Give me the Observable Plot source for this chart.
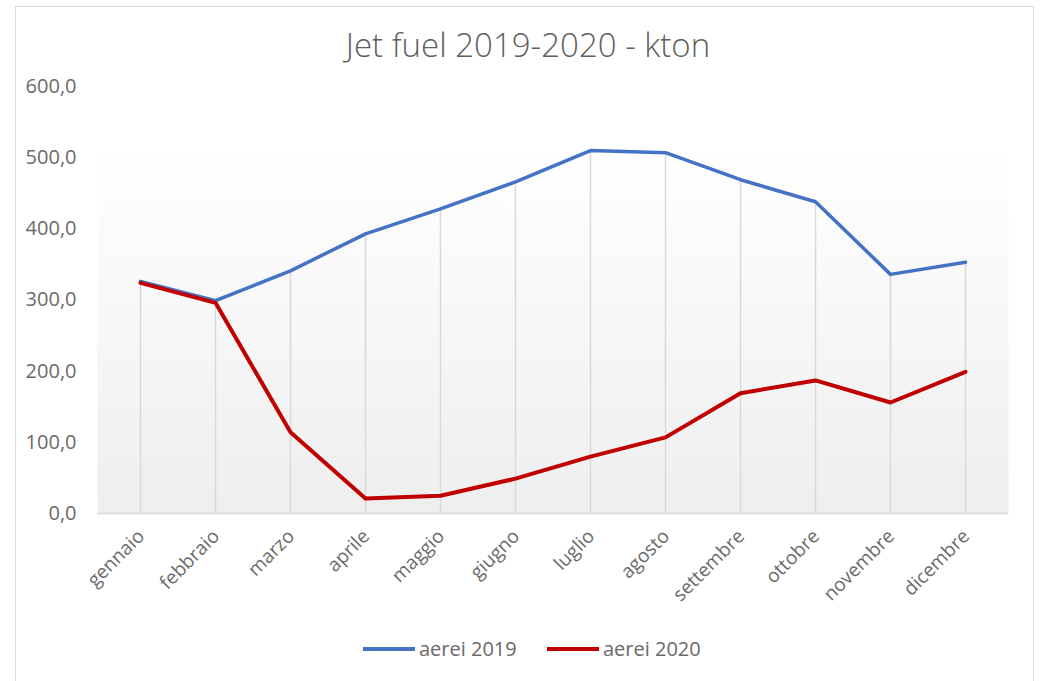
<!DOCTYPE html>
<html>
<head>
<meta charset="utf-8">
<script src="https://cdn.jsdelivr.net/npm/d3@7"></script>
<script src="https://cdn.jsdelivr.net/npm/@observablehq/plot@0.6"></script>
<style>
  html, body { margin: 0; padding: 0; background: #fff; }
  #wrap { position: relative; width: 1040px; height: 681px; overflow: hidden; font-family: "Open Sans", sans-serif; }
  #border { position: absolute; left: 15px; top: 6px; width: 1019px; height: 700px; border: 1px solid #d9d9d9; box-sizing: border-box; }
  #title { position: absolute; left: 0; top: 25px; width: 1056px; text-align: center; font-size: 33px; line-height: 40px; color: #5f5f5f; font-weight: 300; }
  #chart { position: absolute; left: 0; top: 0; }
  #legend { position: absolute; top: 635px; left: 0; width: 1040px; font-size: 20px; line-height: 28px; color: #6a6a6a; }
  .lg { position: absolute; display: flex; align-items: center; }
  .sw { display: inline-block; width: 52px; height: 4px; margin-right: 4px; }
</style>
</head>
<body>
<div id="wrap">
  <div id="border"></div>
  <div id="chart"></div>
  <div id="title">Jet fuel 2019-2020 - kton</div>
  <div id="legend"></div>
</div>
<script>
const months = ["gennaio","febbraio","marzo","aprile","maggio","giugno","luglio","agosto","settembre","ottobre","novembre","dicembre"];
const aerei2019 = [326, 299, 341, 393, 428, 466, 510, 507, 469, 438, 336, 353];
const aerei2020 = [324, 296, 114, 21, 25, 49, 80, 107, 169, 187, 156, 199];
const seriesNames = ["aerei 2019", "aerei 2020"];
const seriesColors = ["#4472c4", "#c00000"];
const yTicks = [0, 100, 200, 300, 400, 500, 600];

const rows = [];
months.forEach((m, i) => {
  rows.push({month: m, value: aerei2019[i], series: seriesNames[0]});
  rows.push({month: m, value: aerei2020[i], series: seriesNames[1]});
});
const drops = months.map((m, i) => ({month: m, top: Math.max(aerei2019[i], aerei2020[i])}));
const fmt = d => d.toFixed(1).replace(".", ",");

const plot = Plot.plot({
  width: 1040,
  height: 681,
  marginLeft: 97,
  marginRight: 32,
  marginTop: 86,
  marginBottom: 168,
  style: {background: "transparent", fontFamily: "Open Sans, sans-serif"},
  x: {type: "point", domain: months, padding: 0.5, axis: null},
  y: {domain: [0, 600], axis: null},
  color: {domain: seriesNames, range: seriesColors},
  marks: [
    Plot.frame({fill: "url(#bggrad)", stroke: "none"}),
    Plot.ruleX(drops, {x: "month", y1: 0, y2: "top", stroke: "#d9d9d9", strokeWidth: 1.5}),
    Plot.ruleY([0], {stroke: "#d9d9d9", strokeWidth: 1.5}),
    Plot.axisY({ticks: yTicks, tickSize: 0, tickPadding: 21, tickFormat: fmt, fontSize: 20, fill: "#6a6a6a"}),
    Plot.text(months, {x: d => d, frameAnchor: "bottom", dy: 24, dx: 5, rotate: -45, textAnchor: "end", fontSize: 19, fill: "#6a6a6a"}),
    Plot.line(rows.filter(r => r.series === seriesNames[0]), {x: "month", y: "value", stroke: "series", strokeWidth: 3.5}),
    Plot.line(rows.filter(r => r.series === seriesNames[1]), {x: "month", y: "value", stroke: "series", strokeWidth: 4})
  ]
});

const ns = "http://www.w3.org/2000/svg";
const defs = document.createElementNS(ns, "defs");
defs.innerHTML = '<linearGradient id="bggrad" x1="0" y1="0" x2="0" y2="1"><stop offset="0" stop-color="#ffffff"/><stop offset="0.15" stop-color="#ffffff"/><stop offset="1" stop-color="#eeeeee"/></linearGradient>';
plot.insertBefore(defs, plot.firstChild);
document.getElementById("chart").appendChild(plot);

const legend = document.getElementById("legend");
const lx = [363, 547];
seriesNames.forEach((s, i) => {
  const d = document.createElement("div");
  d.className = "lg";
  d.style.left = lx[i] + "px";
  d.innerHTML = `<span class="sw" style="background:${seriesColors[i]}"></span><span>${s}</span>`;
  legend.appendChild(d);
});
</script>
</body>
</html>
